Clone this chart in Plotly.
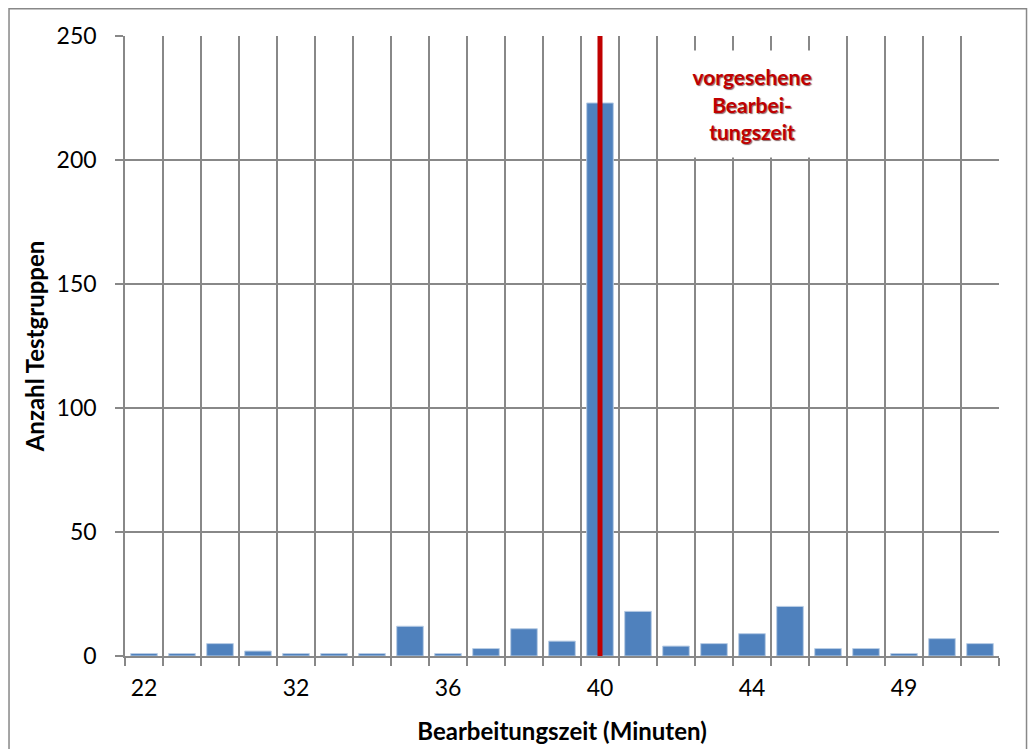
import plotly.graph_objects as go

# Data
counts = [1, 1, 5, 2, 1, 1, 1, 12, 1, 3, 11, 6, 223, 18, 4, 5, 9, 20, 3, 3, 1, 7, 5]
tick_labels = ["22", "32", "36", "40", "44", "49"]
tick_every = 4
target_label = "40"
y_max = 250
y_step = 50
note_text = "vorgesehene<br>Bearbei-<br>tungszeit"

n = len(counts)
xs = list(range(n))
label_pos = [i * tick_every for i in range(len(tick_labels))]
target_x = label_pos[tick_labels.index(target_label)]
boundaries = [i - 0.5 for i in range(n + 1)]

GRID = "#888888"
FONT = "Lato, Carlito, Calibri, sans-serif"

fig = go.Figure()
fig.add_trace(go.Bar(
    x=xs, y=counts, marker=dict(color="#4F81BD", line=dict(color="#B9CDE5", width=1)),
    width=0.7, showlegend=False, hoverinfo="y"))
fig.add_trace(go.Scatter(
    x=[target_x, target_x], y=[0, y_max], mode="lines", xaxis="x2",
    line=dict(color="#C00000", width=5), showlegend=False, hoverinfo="skip"))

fig.update_layout(
    width=1034, height=749,
    margin=dict(l=125, r=35, t=36, b=93, autoexpand=False),
    paper_bgcolor="white", plot_bgcolor="white",
    font=dict(family=FONT, size=23, color="black"),
    xaxis=dict(
        automargin=False,
        range=[-0.5, n - 0.5], tickmode="array", tickvals=boundaries,
        ticktext=[""] * len(boundaries), showgrid=True, gridcolor=GRID, gridwidth=1.5,
        ticks="outside", ticklen=8, tickcolor=GRID, tickwidth=1.5,
        showline=True, linecolor=GRID, linewidth=1.5, zeroline=False,
    ),
    xaxis2=dict(
        automargin=False,
        overlaying="x", matches="x", anchor="y", side="bottom",
        range=[-0.5, n - 0.5], tickmode="array", tickvals=label_pos, ticktext=tick_labels,
        showgrid=False, ticks="", showline=False, zeroline=False,
        ticklabelstandoff=16,
        title=dict(text="<b>Bearbeitungszeit (Minuten)</b>", font=dict(size=24), standoff=23),
    ),
    yaxis=dict(
        automargin=False,
        range=[0, y_max], tickmode="linear", tick0=0, dtick=y_step,
        showgrid=True, gridcolor=GRID, gridwidth=1.5,
        ticks="outside", ticklen=8, tickcolor=GRID, tickwidth=1.5,
        showline=True, linecolor=GRID, linewidth=1.5, zeroline=False,
        ticklabelstandoff=14,
        title=dict(text="<b>Anzahl Testgruppen</b>", font=dict(size=24), standoff=5),
    ),
    shapes=[dict(type="rect", xref="paper", yref="paper", x0=-0.1327, x1=1.0315,
                 y0=-0.2, y1=1.044, line=dict(color=GRID, width=1.5), layer="below")],
    annotations=[dict(
        x=16, y=222.4, xref="x", yref="y", text="<b>" + note_text + "</b>", showarrow=False,
        font=dict(family=FONT, size=21, color="#C00000",
                  shadow="1px 1px 1px rgba(60,0,0,0.6)"),
        bgcolor="white", width=148, height=104, align="center")],
)

fig.write_html("out.html")
